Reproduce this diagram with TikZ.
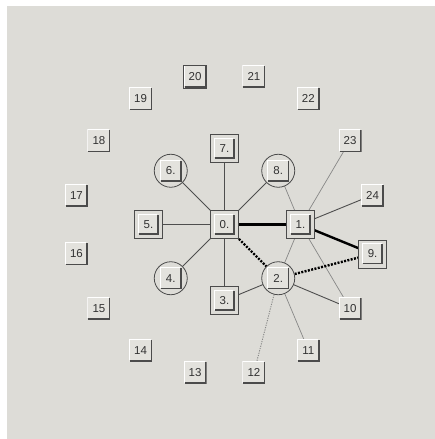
\documentclass[tikz,border=0pt]{standalone}
\usepackage{fontspec}
\setmainfont{Liberation Sans}
\pgfdeclarelayer{canvas}
\pgfdeclarelayer{wires}
\pgfsetlayers{canvas,wires,main}
\definecolor{canvas}{RGB}{221,220,215}
\definecolor{face}{RGB}{227,226,221}
\definecolor{rim}{RGB}{75,75,75}
\definecolor{ink}{RGB}{50,50,50}
\definecolor{wire}{RGB}{78,78,78}
\definecolor{pale}{RGB}{135,135,135}
% key face drawn inside a node: #1 = half size
\newcommand\keyface[1]{%
  \fill[face] ([shift={(-#1pt,-#1pt)}]path picture bounding box.center) rectangle ([shift={(#1pt,#1pt)}]path picture bounding box.center);
  \draw[white, line width=1pt] ([shift={(-#1pt+0.5pt,-#1pt+1.5pt)}]path picture bounding box.center) |- ([shift={(#1pt-1.5pt,#1pt-0.5pt)}]path picture bounding box.center);
  \draw[rim, line width=1.6pt] ([shift={(-#1pt+1pt,-#1pt+0.8pt)}]path picture bounding box.center) -| ([shift={(#1pt-0.8pt,#1pt-1pt)}]path picture bounding box.center);}
\tikzset{
  font=\fontsize{11.5}{13}\selectfont,
  key/.style={fill=canvas, text=ink, inner sep=0pt, minimum width=23pt, minimum height=23pt, path picture={\keyface{11.5}}},
  focus/.style={draw=rim, line width=0.8pt},
  boxkey/.style={fill=canvas, draw=rim, line width=0.9pt, text=ink, inner sep=0pt, minimum size=28pt, path picture={\keyface{10.5}}},
  ringkey/.style={circle, fill=canvas, draw=rim, line width=0.8pt, text=ink, inner sep=0pt, minimum size=33pt, path picture={\keyface{11}}},
  link/.style={draw=wire, line width=0.9pt},
  faint/.style={draw=pale, line width=0.7pt},
  faintdot/.style={faint, line width=0.9pt, dash pattern=on 1.2pt off 1.2pt},
  heavy/.style={draw=black, line width=2.4pt},
  heavydot/.style={heavy, dash pattern=on 2pt off 1.4pt},
}
\begin{document}
\begin{tikzpicture}[x=1pt,y=1pt]
\def\r{76}
\def\R{151}
\useasboundingbox (-224.5,224.5) rectangle (210.5,-214.5);
\begin{pgfonlayer}{canvas}
\fill[canvas] (-217.5,218.5) rectangle (210.5,-214.5);
\end{pgfonlayer}
% hub and inner ring
\node[boxkey] (n0) at (0,0) {0.};
\node[boxkey] (n1) at (0:\r) {1.};
\node[ringkey] (n2) at (-45:\r) {2.};
\node[boxkey] (n3) at (-90:\r) {3.};
\node[ringkey] (n4) at (-135:\r) {4.};
\node[boxkey] (n5) at (180:\r) {5.};
\node[ringkey] (n6) at (135:\r) {6.};
\node[boxkey] (n7) at (90:\r) {7.};
\node[ringkey] (n8) at (45:\r) {8.};
% outer ring
\node[boxkey] (n9) at (-11.25:\R) {9.};
\node[key] (n10) at (-33.75:\R) {10};
\node[key] (n11) at (-56.25:\R) {11};
\node[key] (n12) at (-78.75:\R) {12};
\node[key] (n13) at (-101.25:\R) {13};
\node[key] (n14) at (-123.75:\R) {14};
\node[key] (n15) at (-146.25:\R) {15};
\node[key] (n16) at (-168.75:\R) {16};
\node[key] (n17) at (168.75:\R) {17};
\node[key] (n18) at (146.25:\R) {18};
\node[key] (n19) at (123.75:\R) {19};
\node[key, focus] (n20) at (101.25:\R) {20};
\node[key] (n21) at (78.75:\R) {21};
\node[key] (n22) at (56.25:\R) {22};
\node[key] (n23) at (33.75:\R) {23};
\node[key] (n24) at (11.25:\R) {24};
% connectors under the keys
\begin{pgfonlayer}{wires}
\draw[link] (n0.center) -- (n3.center);
\draw[link] (n0.center) -- (n4.center);
\draw[link] (n0.center) -- (n5.center);
\draw[link] (n0.center) -- (n6.center);
\draw[link] (n0.center) -- (n7.center);
\draw[link] (n0.center) -- (n8.center);
\draw[link] (n2.center) -- (n3.center);
\draw[link] (n2.center) -- (n10.center);
\draw[link] (n1.center) -- (n24.center);
\draw[faint] (n8.center) -- (n1.center);
\draw[faint] (n1.center) -- (n10.center);
\draw[faint] (n23.center) -- (n1.center);
\draw[faint] (n1.center) -- (n2.center);
\draw[faint] (n2.center) -- (n11.center);
\draw[faintdot] (n2.center) -- (n12.center);
\draw[heavy] (n0.center) -- (n1.center);
\draw[heavy] (n1.center) -- (n9.center);
\draw[heavydot] (n0.center) -- (n2.center);
\draw[heavydot] (n2.center) -- (n9.center);
\end{pgfonlayer}
\end{tikzpicture}
\end{document}
